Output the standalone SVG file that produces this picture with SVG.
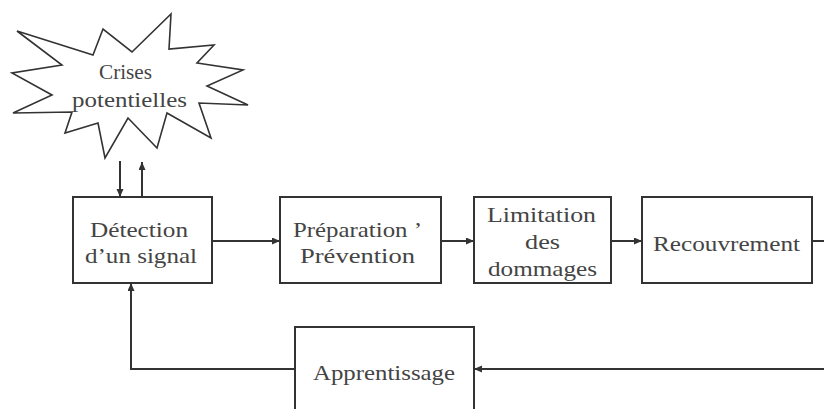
<svg xmlns="http://www.w3.org/2000/svg" width="824" height="409" viewBox="0 0 824 409">
<style>
.box{fill:#fff;stroke:#333;stroke-width:2}
.star{fill:#fff;stroke:#333;stroke-width:1.6;stroke-linejoin:miter}
.t{font-family:"Liberation Serif","Times New Roman",serif;font-size:22px;fill:#444;text-anchor:middle}
.c{fill:none;stroke:#333;stroke-width:2}
</style>
<defs>
<marker id="ah" markerUnits="userSpaceOnUse" markerWidth="9" markerHeight="8" refX="8" refY="3.5" orient="auto">
<path d="M0,0 L8,3.5 L0,7 z" fill="#333"/>
</marker>
</defs>
<g id="crises">
<polygon class="star" points="17,31 93,55 103,29 132,52 171,14 169,49 214,45 197,63 243,70 207,86 248,105 199,103 211,138 167,113 157,148 128,118 105,158 98,123 65,133 72,112 13,113 52,95 12,73 62,65"/>
<text class="t" x="125.5" y="79" textLength="53" lengthAdjust="spacingAndGlyphs">Crises</text>
<text class="t" x="129.5" y="107" textLength="115" lengthAdjust="spacingAndGlyphs">potentielles</text>
</g>
<g id="detection">
<rect class="box" x="73" y="197" width="139" height="86"/>
<text class="t" x="139" y="237" textLength="98" lengthAdjust="spacingAndGlyphs">Détection</text>
<text class="t" x="141" y="263" textLength="112" lengthAdjust="spacingAndGlyphs">d’un signal</text>
</g>
<g id="preparation">
<rect class="box" x="280" y="197" width="161" height="86"/>
<text class="t" x="357.5" y="237" textLength="129" lengthAdjust="spacingAndGlyphs">Préparation ’</text>
<text class="t" x="357.5" y="263" textLength="115" lengthAdjust="spacingAndGlyphs">Prévention</text>
</g>
<g id="limitation">
<rect class="box" x="474" y="197" width="137" height="86"/>
<text class="t" x="541.5" y="222" textLength="109" lengthAdjust="spacingAndGlyphs">Limitation</text>
<text class="t" x="542.5" y="249" textLength="35" lengthAdjust="spacingAndGlyphs">des</text>
<text class="t" x="542.5" y="276" textLength="109" lengthAdjust="spacingAndGlyphs">dommages</text>
</g>
<g id="recouvrement">
<rect class="box" x="642" y="197" width="170" height="86"/>
<text class="t" x="726.5" y="251" textLength="147" lengthAdjust="spacingAndGlyphs">Recouvrement</text>
</g>
<g id="apprentissage">
<rect class="box" x="295" y="327" width="179" height="100"/>
<text class="t" x="384" y="380" textLength="142" lengthAdjust="spacingAndGlyphs">Apprentissage</text>
</g>
<g id="connectors">
<line class="c" x1="120" y1="161" x2="120" y2="197" marker-end="url(#ah)"/>
<line class="c" x1="142" y1="197" x2="142" y2="162" stroke-width="3" marker-end="url(#ah)"/>
<line class="c" x1="212" y1="241" x2="280" y2="241" marker-end="url(#ah)"/>
<line class="c" x1="441" y1="241" x2="474" y2="241" marker-end="url(#ah)"/>
<line class="c" x1="611" y1="241" x2="642" y2="241" marker-end="url(#ah)"/>
<line class="c" x1="812" y1="241" x2="824" y2="241"/>
<line class="c" x1="824" y1="369" x2="474" y2="369" marker-end="url(#ah)"/>
<path class="c" d="M295,369 L131,369 L131,283" marker-end="url(#ah)"/>
</g>
</svg>
